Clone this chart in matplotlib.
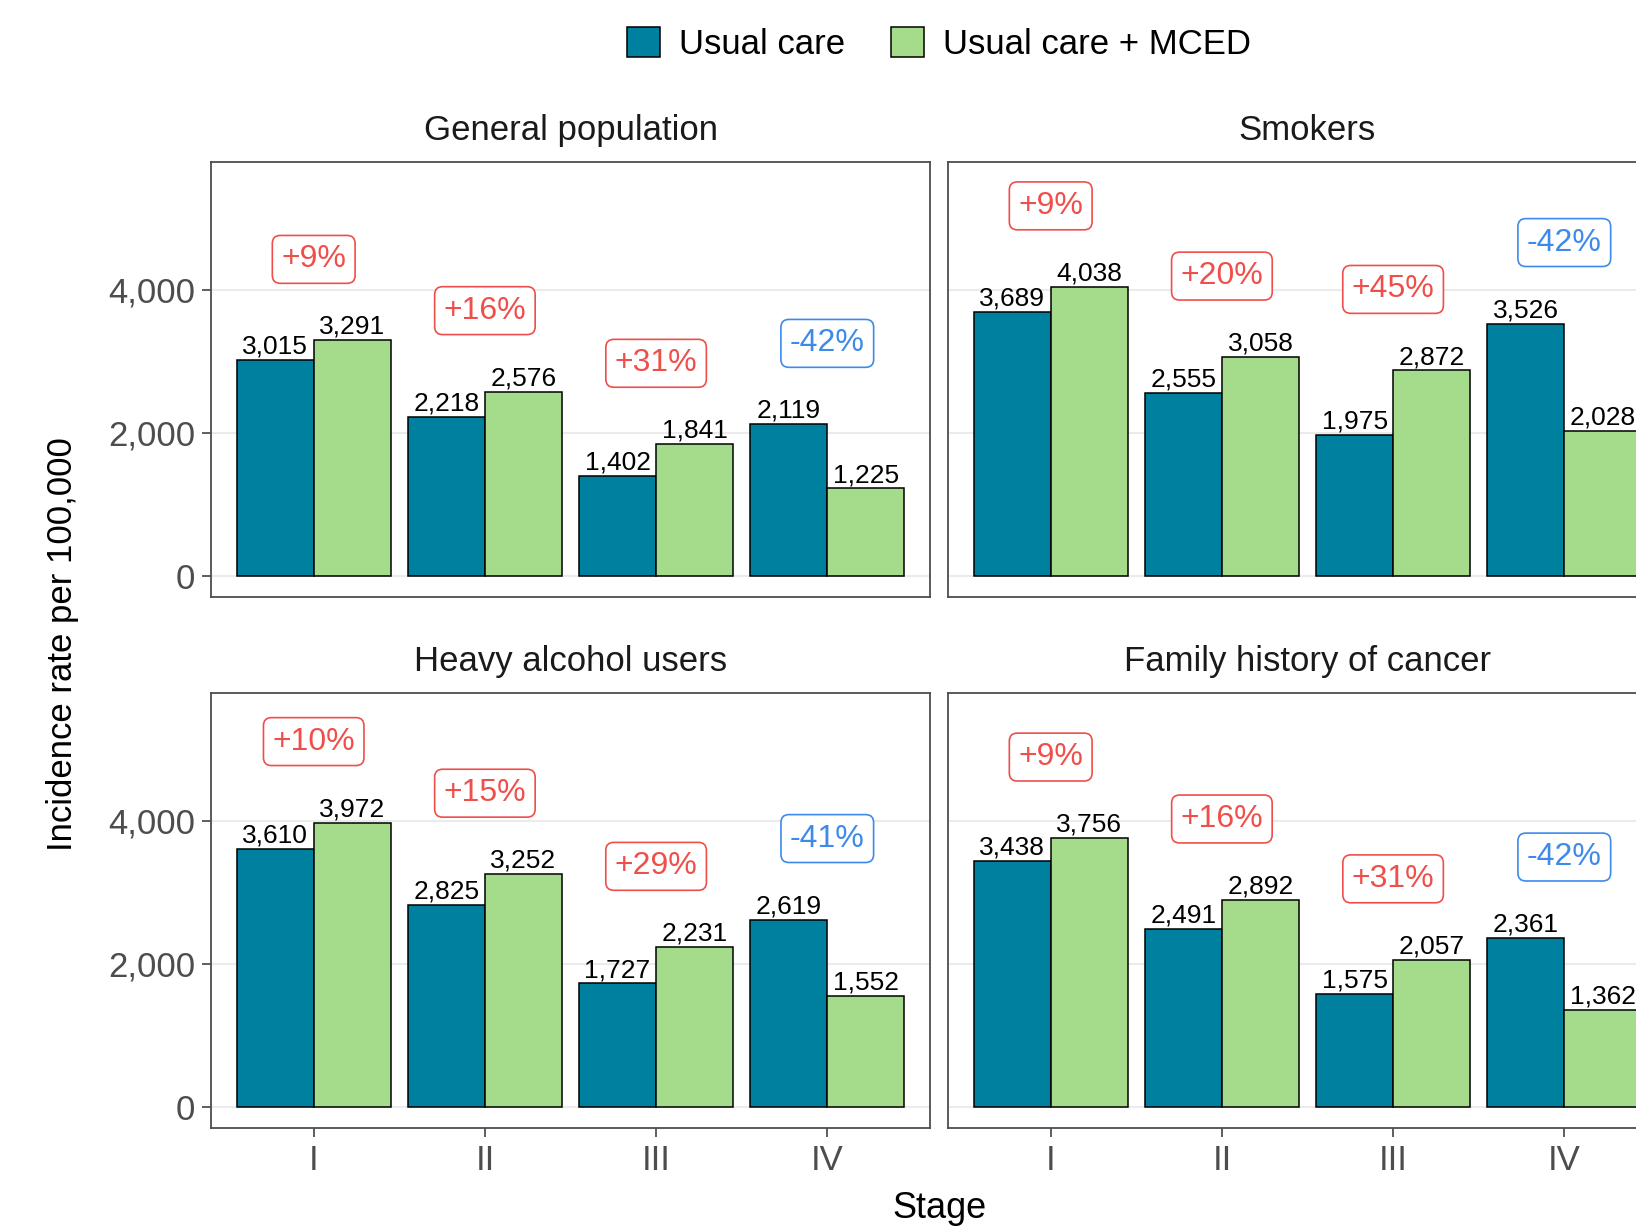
import matplotlib
matplotlib.use("Agg")
import matplotlib.pyplot as plt
from matplotlib.patches import Patch
from matplotlib.ticker import FuncFormatter, FixedLocator
import numpy as np

plt.rcParams['font.family'] = ['Liberation Sans', 'DejaVu Sans']

# ---- data ----
groups = ["General population", "Smokers", "Heavy alcohol users", "Family history of cancer"]
stages = ["I", "II", "III", "IV"]
usual_gp = [3015, 2218, 1402, 2119]
mced_gp = [3291, 2576, 1841, 1225]
usual_sm = [3689, 2555, 1975, 3526]
mced_sm = [4038, 3058, 2872, 2028]
usual_ha = [3610, 2825, 1727, 2619]
mced_ha = [3972, 3252, 2231, 1552]
usual_fh = [3438, 2491, 1575, 2361]
mced_fh = [3756, 2892, 2057, 1362]
series_names = ["Usual care", "Usual care + MCED"]
yticks = [0, 2000, 4000]

usual = [usual_gp, usual_sm, usual_ha, usual_fh]
mced = [mced_gp, mced_sm, mced_ha, mced_fh]

# ---- style ----
C_UC = "#00809F"
C_MC = "#A4DC8B"
C_UP = "#EF4F4A"
C_DN = "#3D8AEB"
GRID = "#EBEBEB"
BORDER = "#4D4D4D"
W, H = 1636, 1226
fig = plt.figure(figsize=(W / 100, H / 100), dpi=100)

pw, ph = 719, 435
lefts = [211, 948]
tops = [162, 693]
label_offset = 1130
bw = 0.45

axes = []
for gi, g in enumerate(groups):
    r, c = divmod(gi, 2)
    x0 = lefts[c] / W
    y0 = 1 - (tops[r] + ph) / H
    ax = fig.add_axes([x0, y0, pw / W, ph / H])
    axes.append(ax)
    x = np.arange(1, len(stages) + 1)
    ax.bar(x - bw / 2, usual[gi], width=bw, color=C_UC, edgecolor="black", linewidth=1.1, zorder=3)
    ax.bar(x + bw / 2, mced[gi], width=bw, color=C_MC, edgecolor="black", linewidth=1.1, zorder=3)
    for xi, u, m in zip(x, usual[gi], mced[gi]):
        ax.annotate(f"{u:,}", (xi - bw / 2, u), xytext=(0, 1), textcoords="offset points",
                    ha="center", va="bottom", fontsize=19, color="black", zorder=4)
        ax.annotate(f"{m:,}", (xi + bw / 2, m), xytext=(0, 1), textcoords="offset points",
                    ha="center", va="bottom", fontsize=19, color="black", zorder=4)
        pct = round((m - u) / u * 100)
        txt = f"+{pct}%" if pct > 0 else f"{pct}%"
        col = C_UP if pct > 0 else C_DN
        ax.text(xi, max(u, m) + label_offset, txt, ha="center", va="center", fontsize=23,
                color=col, zorder=5,
                bbox=dict(boxstyle="round,pad=0.28,rounding_size=0.25", fc="white", ec=col, lw=1.2))
    ax.set_xlim(0.4, 4.6)
    ax.set_ylim(-290, 5780)
    ax.yaxis.set_major_locator(FixedLocator(yticks))
    ax.yaxis.set_major_formatter(FuncFormatter(lambda v, p: f"{int(v):,}"))
    ax.set_xticks(x)
    ax.set_xticklabels(stages)
    ax.grid(axis="y", color=GRID, linewidth=1.5, zorder=0)
    ax.set_axisbelow(True)
    for s in ax.spines.values():
        s.set_color(BORDER)
        s.set_linewidth(1.3)
    ax.tick_params(axis="both", colors="#333333", labelcolor="#4D4D4D", labelsize=25,
                   length=6.5, width=1.1, pad=5)
    if c == 1:
        ax.tick_params(axis="y", left=False, labelleft=False)
    if r == 0:
        ax.tick_params(axis="x", bottom=False, labelbottom=False)
    ax.set_title(g, fontsize=25, color="#1A1A1A", pad=16)

fig.text(63 / W, 1 - 644 / H, "Incidence rate per 100,000", rotation=90, ha="center", va="center",
         fontsize=25, color="black")
fig.text(939 / W, 1 - 1209 / H, "Stage", ha="center", va="center", fontsize=26, color="black")

handles = [Patch(facecolor=C_UC, edgecolor="black", linewidth=1.1),
           Patch(facecolor=C_MC, edgecolor="black", linewidth=1.1)]
fig.legend(handles, series_names, loc="center", bbox_to_anchor=(939 / W, 1 - 44 / H), ncol=2,
           frameon=False, fontsize=25, handlelength=0.95, handleheight=0.95, handletextpad=0.55,
           columnspacing=1.3, borderpad=0)

fig.savefig("out.png", dpi=100)
